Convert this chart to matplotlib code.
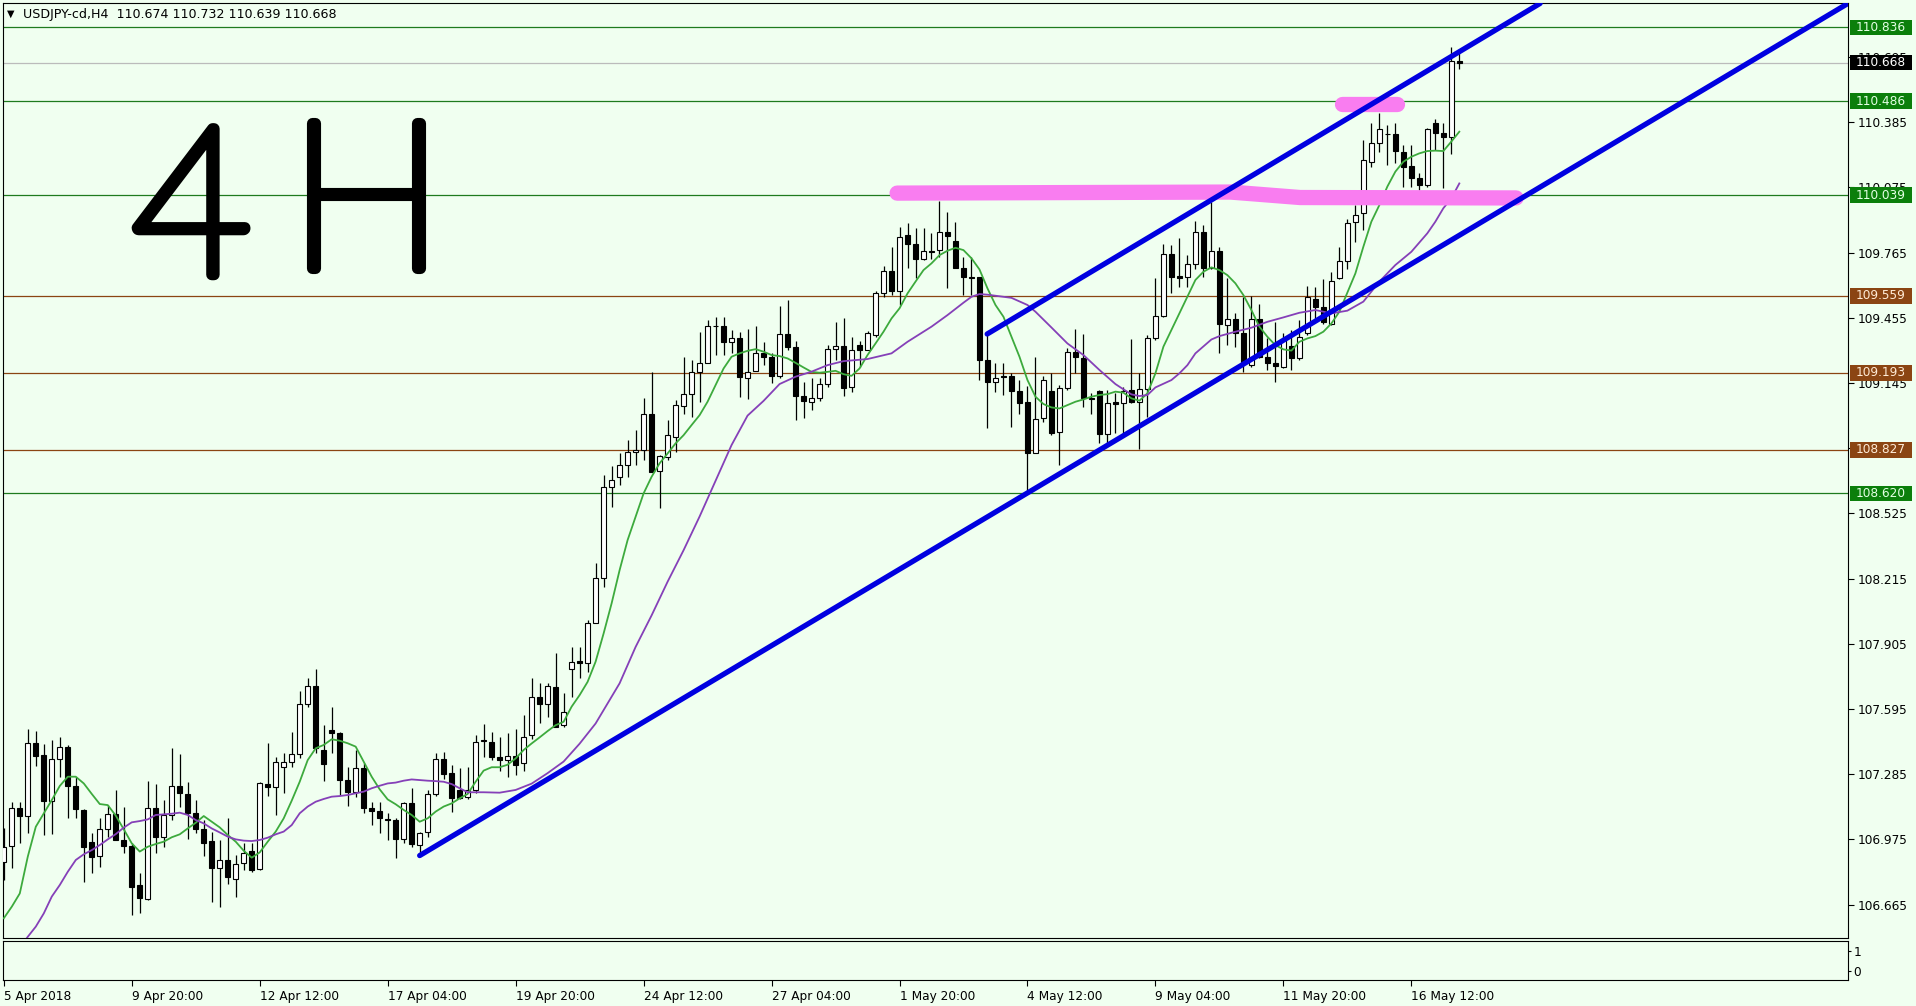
import matplotlib
matplotlib.use('Agg')
import matplotlib.pyplot as plt
import matplotlib.transforms as mtransforms
import matplotlib.patheffects as pe
from matplotlib.patches import Rectangle
import numpy as np

# USDJPY-cd, H4 candles (bar 0 = 5 Apr 2018)
opens = [106.869, 106.943, 107.122, 107.086, 107.432, 107.376, 107.156, 107.357, 107.416, 107.230,
         107.115, 106.963, 106.896, 107.023, 107.096, 106.972, 106.945, 106.758, 106.690, 107.122,
         106.988, 107.091, 107.230, 107.191, 107.102, 107.023, 106.967, 106.837, 106.877, 106.787,
         106.861, 106.920, 106.833, 107.238, 107.226, 107.318, 107.341, 107.379, 107.617, 107.704,
         107.400, 107.495, 107.479, 107.257, 107.199, 107.316, 107.122, 107.110, 107.070, 107.067,
         106.975, 107.146, 106.948, 107.012, 107.189, 107.357, 107.289, 107.210, 107.178, 107.210,
         107.443, 107.436, 107.365, 107.352, 107.370, 107.340, 107.471, 107.653, 107.621, 107.701,
         107.518, 107.783, 107.823, 107.812, 108.002, 108.216, 108.649, 108.696, 108.755, 108.818,
         108.826, 109.000, 108.728, 108.794, 108.889, 109.035, 109.091, 109.199, 109.238, 109.416,
         109.416, 109.338, 109.357, 109.167, 109.203, 109.286, 109.270, 109.178, 109.376, 109.314,
         109.084, 109.056, 109.076, 109.138, 109.309, 109.322, 109.124, 109.328, 109.302, 109.373,
         109.571, 109.679, 109.584, 109.848, 109.804, 109.734, 109.774, 109.777, 109.861, 109.822,
         109.693, 109.647, 109.647, 109.254, 109.148, 109.175, 109.178, 109.107, 109.056, 108.810,
         108.977, 109.107, 108.910, 109.119, 109.294, 109.265, 109.072, 109.107, 108.902, 109.056,
         109.051, 109.112, 109.056, 109.116, 109.357, 109.465, 109.758, 109.654, 109.650, 109.709,
         109.861, 109.690, 109.772, 109.421, 109.448, 109.381, 109.230, 109.448, 109.270, 109.238,
         109.222, 109.321, 109.262, 109.381, 109.543, 109.505, 109.425, 109.643, 109.725, 109.909,
         109.952, 110.197, 110.288, 110.329, 110.327, 110.245, 110.177, 110.118, 110.086, 110.380,
         110.332, 110.316, 110.674]
highs = [107.027, 107.154, 107.151, 107.498, 107.492, 107.428, 107.447, 107.463, 107.424, 107.273,
         107.118, 107.004, 107.075, 107.138, 107.210, 107.131, 106.956, 106.813, 107.254, 107.238,
         107.162, 107.408, 107.379, 107.249, 107.162, 107.067, 107.012, 106.972, 107.075, 106.901,
         106.956, 106.956, 107.249, 107.435, 107.365, 107.387, 107.487, 107.681, 107.744, 107.784,
         107.519, 107.606, 107.487, 107.321, 107.400, 107.337, 107.154, 107.154, 107.099, 107.075,
         107.154, 107.218, 107.012, 107.210, 107.384, 107.389, 107.329, 107.316, 107.321, 107.471,
         107.522, 107.487, 107.463, 107.479, 107.502, 107.566, 107.740, 107.717, 107.717, 107.859,
         107.669, 107.891, 107.891, 108.018, 108.287, 108.707, 108.750, 108.813, 108.874, 108.921,
         109.072, 109.199, 108.802, 108.969, 109.064, 109.270, 109.254, 109.389, 109.444, 109.460,
         109.460, 109.397, 109.389, 109.400, 109.416, 109.341, 109.286, 109.511, 109.539, 109.346,
         109.151, 109.167, 109.167, 109.325, 109.436, 109.452, 109.362, 109.346, 109.392, 109.584,
         109.701, 109.793, 109.888, 109.907, 109.880, 109.880, 109.856, 110.012, 109.959, 109.912,
         109.745, 109.745, 109.650, 109.373, 109.241, 109.238, 109.191, 109.159, 109.130, 109.270,
         109.180, 109.194, 109.135, 109.310, 109.400, 109.378, 109.096, 109.112, 109.112, 109.096,
         109.127, 109.352, 109.194, 109.373, 109.642, 109.804, 109.801, 109.833, 109.753, 109.917,
         109.896, 110.007, 109.793, 109.642, 109.479, 109.555, 109.558, 109.520, 109.357, 109.436,
         109.384, 109.397, 109.444, 109.606, 109.603, 109.639, 109.674, 109.793, 109.923, 109.991,
         110.300, 110.380, 110.427, 110.372, 110.380, 110.277, 110.277, 110.142, 110.356, 110.400,
         110.380, 110.741, 110.732]
lows = [106.782, 106.837, 106.956, 107.004, 107.325, 106.996, 106.999, 107.273, 107.075, 107.075,
        106.774, 106.813, 106.845, 106.988, 106.972, 106.909, 106.615, 106.623, 106.687, 106.909,
        106.937, 107.067, 107.131, 106.975, 107.007, 106.896, 106.679, 106.655, 106.763, 106.703,
        106.829, 106.821, 106.829, 107.181, 107.091, 107.194, 107.321, 107.360, 107.606, 107.384,
        107.254, 107.384, 107.186, 107.135, 107.178, 107.102, 107.043, 107.004, 106.972, 106.885,
        106.956, 106.940, 106.909, 106.988, 107.181, 107.260, 107.107, 107.165, 107.165, 107.194,
        107.368, 107.352, 107.300, 107.270, 107.280, 107.300, 107.450, 107.526, 107.558, 107.510,
        107.510, 107.653, 107.740, 107.772, 108.002, 108.176, 108.557, 108.660, 108.699, 108.755,
        108.778, 108.723, 108.549, 108.778, 108.818, 109.000, 108.985, 109.056, 109.238, 109.278,
        109.278, 109.286, 109.080, 109.067, 109.200, 109.230, 109.143, 109.167, 109.302, 108.969,
        108.981, 109.016, 109.061, 109.127, 109.254, 109.084, 109.103, 109.222, 109.302, 109.362,
        109.555, 109.563, 109.516, 109.690, 109.642, 109.730, 109.733, 109.742, 109.595, 109.690,
        109.563, 109.563, 109.159, 108.929, 109.104, 109.088, 108.937, 109.000, 108.623, 108.810,
        108.960, 108.897, 108.755, 109.110, 109.191, 109.032, 109.000, 108.858, 108.858, 108.905,
        108.905, 109.050, 108.829, 108.985, 109.350, 109.460, 109.571, 109.603, 109.603, 109.685,
        109.650, 109.685, 109.286, 109.325, 109.318, 109.199, 109.222, 109.265, 109.207, 109.151,
        109.215, 109.207, 109.255, 109.375, 109.448, 109.425, 109.420, 109.640, 109.685, 109.817,
        109.872, 110.174, 110.245, 110.182, 110.189, 110.079, 110.079, 110.063, 110.079, 110.253,
        110.071, 110.234, 110.639]
closes = [106.940, 107.122, 107.088, 107.432, 107.373, 107.159, 107.357, 107.416, 107.230, 107.118,
          106.940, 106.893, 107.023, 107.096, 106.972, 106.945, 106.747, 106.695, 107.122, 106.988,
          107.091, 107.229, 107.194, 107.102, 107.023, 106.959, 106.837, 106.877, 106.795, 106.856,
          106.912, 106.829, 107.241, 107.222, 107.341, 107.341, 107.379, 107.617, 107.704, 107.408,
          107.332, 107.479, 107.257, 107.199, 107.316, 107.122, 107.111, 107.075, 107.065, 106.975,
          107.146, 106.951, 107.004, 107.189, 107.357, 107.284, 107.170, 107.170, 107.210, 107.440,
          107.448, 107.365, 107.352, 107.370, 107.330, 107.463, 107.653, 107.621, 107.704, 107.510,
          107.582, 107.820, 107.812, 108.002, 108.216, 108.652, 108.683, 108.755, 108.818, 108.826,
          109.000, 108.723, 108.798, 108.897, 109.040, 109.091, 109.199, 109.241, 109.416, 109.414,
          109.338, 109.357, 109.172, 109.199, 109.290, 109.267, 109.178, 109.376, 109.314, 109.084,
          109.061, 109.076, 109.138, 109.309, 109.322, 109.119, 109.302, 109.302, 109.381, 109.571,
          109.679, 109.584, 109.837, 109.804, 109.733, 109.772, 109.770, 109.861, 109.845, 109.693,
          109.647, 109.645, 109.254, 109.151, 109.170, 109.172, 109.107, 109.051, 108.810, 108.972,
          109.159, 108.905, 109.119, 109.294, 109.270, 109.072, 109.070, 108.902, 109.051, 109.045,
          109.107, 109.056, 109.116, 109.357, 109.465, 109.758, 109.650, 109.642, 109.709, 109.861,
          109.690, 109.772, 109.424, 109.448, 109.381, 109.241, 109.448, 109.270, 109.241, 109.226,
          109.352, 109.262, 109.365, 109.552, 109.508, 109.436, 109.630, 109.725, 109.907, 109.944,
          110.205, 110.288, 110.351, 110.327, 110.250, 110.174, 110.118, 110.086, 110.351, 110.332,
          110.316, 110.678, 110.668]

# fast moving average (green), one value per bar
green_ma = [106.600, 106.655, 106.718, 106.893, 107.035, 107.099, 107.162, 107.229, 107.273, 107.273,
            107.241, 107.191, 107.143, 107.138, 107.088, 107.023, 106.956, 106.917, 106.940, 106.953,
            106.964, 106.985, 106.999, 107.027, 107.054, 107.086, 107.059, 107.032, 106.996, 106.964,
            106.921, 106.888, 106.913, 106.964, 107.012, 107.075, 107.159, 107.249, 107.352, 107.408,
            107.424, 107.451, 107.444, 107.432, 107.416, 107.345, 107.273, 107.213, 107.165, 107.142,
            107.115, 107.091, 107.059, 107.075, 107.107, 107.131, 107.146, 107.170, 107.191, 107.249,
            107.302, 107.318, 107.318, 107.330, 107.360, 107.400, 107.431, 107.460, 107.490, 107.518,
            107.534, 107.606, 107.661, 107.724, 107.820, 107.954, 108.097, 108.255, 108.398, 108.509,
            108.620, 108.699, 108.763, 108.810, 108.858, 108.897, 108.945, 108.992, 109.056, 109.135,
            109.214, 109.270, 109.286, 109.298, 109.306, 109.294, 109.278, 109.273, 109.262, 109.241,
            109.219, 109.198, 109.194, 109.198, 109.203, 109.187, 109.179, 109.214, 109.278, 109.333,
            109.389, 109.452, 109.500, 109.571, 109.627, 109.682, 109.714, 109.753, 109.774, 109.788,
            109.777, 109.738, 109.685, 109.595, 109.516, 109.460, 109.365, 109.270, 109.159, 109.080,
            109.045, 109.029, 109.024, 109.040, 109.056, 109.067, 109.080, 109.088, 109.092, 109.104,
            109.099, 109.072, 109.061, 109.096, 109.191, 109.318, 109.397, 109.476, 109.555, 109.635,
            109.674, 109.695, 109.682, 109.658, 109.619, 109.563, 109.492, 109.413, 109.365, 109.325,
            109.305, 109.299, 109.341, 109.357, 109.368, 109.389, 109.428, 109.484, 109.575, 109.666,
            109.793, 109.912, 109.991, 110.079, 110.150, 110.197, 110.221, 110.237, 110.248, 110.250,
            110.248, 110.293, 110.340]

# slow moving average (purple), read every bar or two
purple_bars = [2, 3, 4, 5, 6, 7, 8, 9, 10, 11, 12, 13, 14, 15, 16, 17, 18, 19, 20, 21, 22, 23, 24, 25,
               26, 27, 28, 29, 30, 31, 32, 33, 34, 35, 36, 37, 38, 39, 40, 41, 42, 43, 44, 45, 46, 47,
               48, 49, 50, 51, 52, 53, 54, 55, 56, 57, 58, 59, 60, 62, 64, 66, 68, 70, 72, 74, 77, 79,
               81, 83, 85, 87, 89, 91, 93, 95, 97, 99, 101, 103, 105, 108, 111, 113, 116, 118, 120, 121,
               122, 123, 125, 126, 128, 129, 131, 133, 135, 137, 139, 140, 141, 142, 143, 144, 146, 147,
               148, 149, 151, 152, 154, 156, 158, 160, 162, 164, 166, 168, 170, 172, 174, 176, 178, 179,
               180, 181, 182]
purple_ma = [106.460, 106.512, 106.560, 106.623, 106.703, 106.758, 106.821, 106.877, 106.904, 106.924,
             106.948, 106.975, 107.000, 107.031, 107.056, 107.062, 107.070, 107.091, 107.094, 107.097,
             107.102, 107.091, 107.067, 107.051, 107.027, 107.008, 106.988, 106.975, 106.969, 106.967,
             106.972, 106.983, 106.999, 107.012, 107.043, 107.099, 107.131, 107.154, 107.167, 107.178,
             107.181, 107.186, 107.194, 107.202, 107.218, 107.230, 107.241, 107.245, 107.254, 107.260,
             107.257, 107.254, 107.252, 107.249, 107.238, 107.218, 107.199, 107.199, 107.199, 107.197,
             107.210, 107.240, 107.290, 107.345, 107.430, 107.526, 107.717, 107.890, 108.040, 108.200,
             108.350, 108.510, 108.680, 108.850, 108.990, 109.060, 109.140, 109.175, 109.199, 109.230,
             109.249, 109.259, 109.286, 109.341, 109.413, 109.468, 109.527, 109.555, 109.568, 109.565,
             109.555, 109.550, 109.516, 109.484, 109.409, 109.333, 109.278, 109.207, 109.140, 109.115,
             109.091, 109.083, 109.088, 109.124, 109.159, 109.191, 109.230, 109.286, 109.352, 109.368,
             109.389, 109.408, 109.436, 109.457, 109.479, 109.492, 109.476, 109.489, 109.532, 109.627,
             109.706, 109.769, 109.857, 109.912, 109.976, 110.023, 110.094]

# horizontal levels drawn on the chart
green_levels = [110.836, 110.486, 110.039, 108.620]
brown_levels = [109.559, 109.193, 108.827]
bid_price = 110.668

# hand-drawn marks (bar index, price)
channel_lines = [([52.0, 230.6], [106.898, 110.950]),
                 ([122.96, 192.1], [109.378, 110.950])]
pink_long = ([111.7, 153.4, 162.1, 189.1], [110.048, 110.053, 110.027, 110.025])
pink_short = ([167.3, 174.2], [110.470, 110.470])

price_ticks = [106.665, 106.975, 107.285, 107.595, 107.905, 108.215, 108.525, 108.835,
               109.145, 109.455, 109.765, 110.075, 110.385, 110.695]
date_bars = [0, 16, 32, 48, 64, 80, 96, 112, 128, 144, 160, 176]
date_labels = ['5 Apr 2018', '9 Apr 20:00', '12 Apr 12:00', '17 Apr 04:00', '19 Apr 20:00',
               '24 Apr 12:00', '27 Apr 04:00', '1 May 20:00', '4 May 12:00', '9 May 04:00',
               '11 May 20:00', '16 May 12:00']

bg = '#F0FFF0'
W, H = 1916, 1006
fig = plt.figure(figsize=(W / 100, H / 100), dpi=100, facecolor=bg)
ax = fig.add_axes([3 / W, 1 - 938 / H, 1845 / W, 935 / H], facecolor=bg)
ax2 = fig.add_axes([3 / W, 1 - 980 / H, 1845 / W, 39 / H], facecolor=bg)

o = np.array(opens); h = np.array(highs); l = np.array(lows); c = np.array(closes)
x = np.arange(len(o))

# levels
for p in green_levels:
    ax.axhline(p, color='#1E7B1E', lw=0.9, zorder=1)
for p in brown_levels:
    ax.axhline(p, color='#8B4513', lw=0.9, zorder=1)
ax.axhline(bid_price, color='#BBBBBB', lw=0.9, zorder=1)

# candles
ax.vlines(x, l, h, color='black', lw=0.9, zorder=3)
up = c >= o
body_low = np.minimum(o, c)
body_h = np.maximum(np.abs(c - o), 0.004)
ax.bar(x, body_h, bottom=body_low, width=0.62,
       color=np.where(up, 'white', 'black'), edgecolor='black', linewidth=0.8, zorder=4)

# moving averages
ax.plot(np.arange(len(green_ma)), green_ma, color='#3DAA3D', lw=1.3, zorder=5)
ax.plot(purple_bars, purple_ma, color='#8540B8', lw=1.3, zorder=5)

# drawings
ax.plot(*pink_long, color='#F97DF0', lw=11, solid_capstyle='round', solid_joinstyle='round', zorder=6)
ax.plot(*pink_short, color='#F97DF0', lw=11, solid_capstyle='round', zorder=6)
for xs, ys in channel_lines:
    ax.plot(xs, ys, color='#0000E0', lw=3.8, solid_capstyle='round', zorder=7)

# hand-written timeframe mark (thin glyphs traced with a fat round "marker")
marker = [pe.withStroke(linewidth=8, foreground='black', capstyle='round', joinstyle='round')]
ax.text(23.5, 109.66, '4', fontsize=150, ha='center', va='baseline', color='black',
        family=['Lato', 'DejaVu Sans'], fontweight='light', zorder=8, path_effects=marker)
ax.text(45.3, 109.69, 'H', fontsize=150, ha='center', va='baseline', color='black',
        family=['Lato', 'DejaVu Sans'], fontweight='light', zorder=8, path_effects=marker)

ax.text(0.002, 0.988, '\u25BC', transform=ax.transAxes, fontsize=7, va='center', ha='left')
ax.text(0.011, 0.988, 'USDJPY-cd,H4  110.674 110.732 110.639 110.668', transform=ax.transAxes,
        fontsize=9.1, va='center', ha='left')

ax.set_xlim(-0.1, 230.6)
ax.set_ylim(106.506, 110.952)
ax.set_xticks([])
ax.yaxis.tick_right()
ax.set_yticks(price_ticks)
ax.set_yticklabels(['%.3f' % t for t in price_ticks])
ax.tick_params(axis='y', direction='out', length=4, width=0.8, pad=3, labelsize=8.7)

# price boxes on the right scale
tr = mtransforms.blended_transform_factory(ax.transAxes, ax.transData)
boxes = [(p, '#0B7F0B', '#E4FFE4') for p in green_levels] + \
        [(p, '#8B4513', '#FFEBD6') for p in brown_levels] + [(bid_price, 'black', 'white')]
box_h = 15.5 / 210.3
for p, fc, tc in boxes:
    ax.add_patch(Rectangle((1.0011, p - box_h / 2), 62 / 1845, box_h, transform=tr,
                           fc=fc, ec='none', clip_on=False, zorder=9))
    ax.text(1.0042, p, '%.3f' % p, transform=tr, fontsize=8.7, color=tc, va='center', ha='left',
            clip_on=False, zorder=10)

for sp in ax.spines.values():
    sp.set_linewidth(0.8)

# empty indicator window with date scale
ax2.set_xlim(-0.1, 230.6)
ax2.set_ylim(-0.45, 1.5)
ax2.yaxis.tick_right()
ax2.set_yticks([0, 1])
ax2.set_yticklabels(['0', '1'])
ax2.tick_params(axis='y', direction='out', length=2, pad=2, labelsize=8.7)
ax2.set_xticks(date_bars)
ax2.set_xticklabels(date_labels, ha='left')
ax2.tick_params(axis='x', direction='out', length=4, width=0.8, pad=3, labelsize=8.7)
for sp in ax2.spines.values():
    sp.set_linewidth(0.8)

fig.savefig('out.png', dpi=100, facecolor=bg)
